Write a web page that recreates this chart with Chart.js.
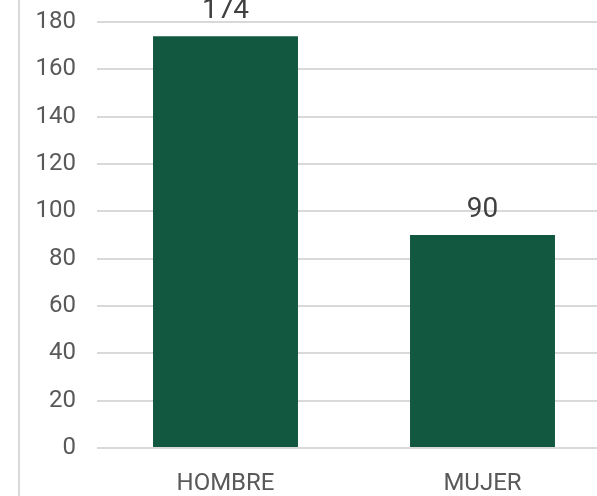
<!DOCTYPE html>
<html>
<head>
<meta charset="utf-8">
<script src="https://cdn.jsdelivr.net/npm/chart.js@4/dist/chart.umd.min.js"></script>
<style>
  html, body { margin: 0; padding: 0; background: #fff; overflow: hidden; }
  #wrap { width: 620px; height: 496px; position: relative; }
</style>
</head>
<body>
<div id="wrap"><canvas id="chart" width="620" height="496"></canvas></div>
<script>
const categories = ['HOMBRE', 'MUJER'];
const values = [174, 90];
const yTicks = [0, 20, 40, 60, 80, 100, 120, 140, 160, 180];

// value labels above each bar
const barLabels = {
    id: 'barLabels',
    afterDatasetsDraw(chart) {
        const ctx = chart.ctx;
        const meta = chart.getDatasetMeta(0);
        ctx.save();
        ctx.font = '28px Roboto';
        ctx.fillStyle = '#404040';
        ctx.textAlign = 'center';
        ctx.textBaseline = 'alphabetic';
        meta.data.forEach((bar, i) => {
            ctx.fillText(values[i], bar.x, bar.y - 18);
        });
        ctx.restore();
    }
};

// left frame line of the chart box
const frameLine = {
    id: 'frameLine',
    afterDraw(chart) {
        const ctx = chart.ctx;
        ctx.save();
        ctx.strokeStyle = '#d9d9d9';
        ctx.lineWidth = 2;
        ctx.beginPath();
        ctx.moveTo(19, 0);
        ctx.lineTo(19, chart.height);
        ctx.stroke();
        ctx.restore();
    }
};

new Chart(document.getElementById('chart'), {
    type: 'bar',
    data: {
        labels: categories,
        datasets: [{
            data: values,
            backgroundColor: '#12573f',
            categoryPercentage: 1,
            barPercentage: 0.564
        }]
    },
    options: {
        responsive: false,
        animation: false,
        layout: { padding: { top: 22, right: 9, left: 0, bottom: 0 } },
        plugins: {
            legend: { display: false },
            tooltip: { enabled: false }
        },
        scales: {
            x: {
                grid: { display: false },
                border: { display: false },
                ticks: {
                    color: '#595959',
                    font: { family: 'Roboto', size: 24 },
                    padding: 14
                },
                afterFit: s => { s.height = 48; }
            },
            y: {
                min: yTicks[0],
                max: yTicks[yTicks.length - 1],
                afterBuildTicks: s => { s.ticks = yTicks.map(v => ({ value: v })); },
                grid: { color: '#d9d9d9', lineWidth: 2, drawTicks: false },
                border: { display: false },
                ticks: {
                    color: '#595959',
                    font: { family: 'Roboto', size: 24 },
                    padding: 21
                },
                afterFit: s => {
                    s.width = 97;
                    s.paddingTop = 0;
                    s.paddingBottom = 0;
                }
            }
        }
    },
    plugins: [barLabels, frameLine]
});
</script>
</body>
</html>
